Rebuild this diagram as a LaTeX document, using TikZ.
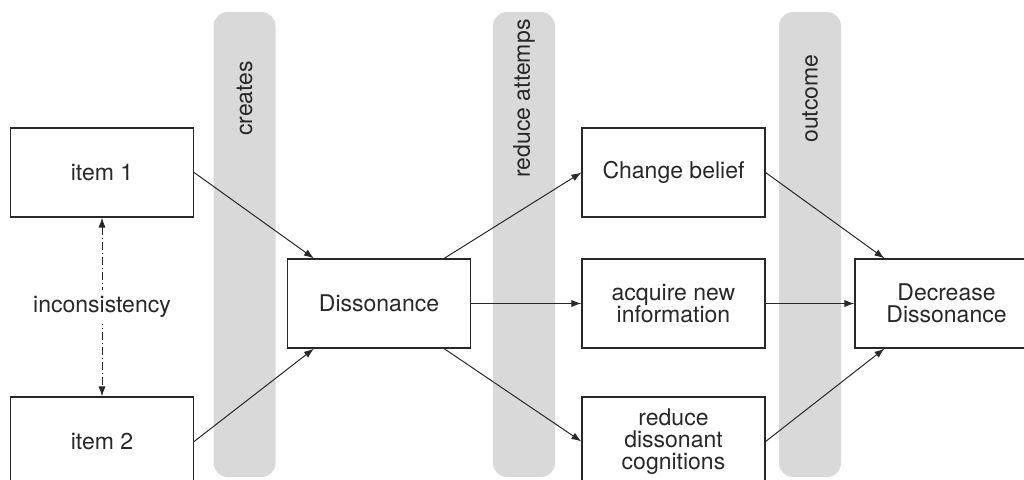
\documentclass[tikz,border=0pt]{standalone}
\usepackage{fontspec}
\setmainfont{TeX Gyre Heros}
\usepackage{xcolor}
\usetikzlibrary{arrows.meta,positioning,calc}
\definecolor{bandgray}{RGB}{217,217,217}
\definecolor{inkgray}{RGB}{40,40,40}

\begin{document}
\begin{tikzpicture}[x=0.5pt, y=-0.5pt, >={Latex[length=5pt,width=3.6pt]},
  main node/.style={rectangle,draw=inkgray,line width=0.6pt,fill=white,minimum width=91.5pt,minimum height=44.5pt,inner sep=0pt,align=center},
  band/.style={rectangle,fill=bandgray,rounded corners=7pt,minimum width=31pt,minimum height=232.5pt,inner sep=0pt},
  band label/.style={rotate=90,text=inkgray}]
\clip (0,0) rectangle (1024,479);
\begin{scope}[every node/.style={font=\fontsize{11.5}{11}\selectfont,text=inkgray}]
% grey bands
\node[band] (bC) at (244.5,244.5) {};
\node[band] (bR) at (524,244.5) {};
\node[band] (bO) at (810,244.5) {};
\node[band label] (lC) at (244.5,98.5) {creates};
\node[band label] (lR) at (524,98.5) {reduce attemps};
\node[band label] (lO) at (810,98.5) {outcome};
% boxes
\node[main node] (i1) at (102,172.5) {item 1};
\node[main node] (i2) at (102,441.5) {item 2};
\node[main node] (dis) at (379,303.5) {Dissonance};
\node[main node] (chg) at (673.5,172.5) {Change belief};
\node[main node] (acq) at (673.5,303.5) {acquire new\\information};
\node[main node] (red) at (673.5,441.5) {reduce\\dissonant\\cognitions};
\node[main node] (dec) at (946.5,303.5) {Decrease\\Dissonance};
\end{scope}
\draw[inkgray,line width=0.5pt,<->,dash pattern=on 4pt off 1.5pt on 0.5pt off 1.5pt] (i1.south) -- node[fill=white,font=\fontsize{11.5}{11}\selectfont,text=inkgray] (inc) {inconsistency} (i2.north);
\begin{scope}[every edge/.style={draw=inkgray,line width=0.5pt,->}]
\draw  (i1.east) edge ([xshift=13.5pt]dis.north west);
\draw  (i2.east) edge ([xshift=13.5pt]dis.south west);
\draw  ([xshift=-13.5pt]dis.north east) edge (chg.west);
\draw  (dis.east) edge (acq.west);
\draw  ([xshift=-13.5pt]dis.south east) edge (red.west);
\draw  (chg.east) edge ([xshift=15pt]dec.north west);
\draw  (acq.east) edge (dec.west);
\draw  (red.east) edge ([xshift=15pt]dec.south west);
\end{scope}
\end{tikzpicture}
\end{document}
